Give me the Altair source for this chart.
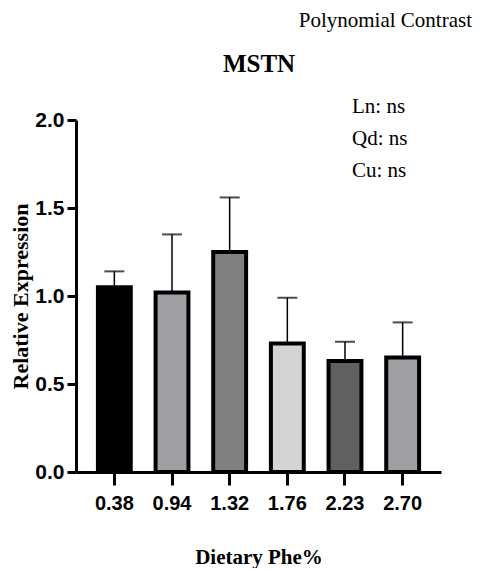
import altair as alt
import pandas as pd

# Data
doses = ["0.38", "0.94", "1.32", "1.76", "2.23", "2.70"]
means = [1.05, 1.02, 1.25, 0.73, 0.63, 0.65]
sems = [0.09, 0.33, 0.31, 0.26, 0.11, 0.20]
bar_colors = ["#000000", "#a0a0a4", "#808080", "#d4d4d4", "#606060", "#a0a0a4"]
contrast_lines = ["Ln: ns", "Qd: ns", "Cu: ns"]

df = pd.DataFrame({"dose": doses, "mean": means, "sem": sems})
df["upper"] = df["mean"] + df["sem"]

SANS = "Liberation Sans Narrow, Arial Narrow, Liberation Sans, sans-serif"
SERIF = "Liberation Serif, Times New Roman, serif"

x_enc = alt.X(
    "dose:N",
    sort=doses,
    scale=alt.Scale(paddingInner=0.43, paddingOuter=0.38),
    axis=alt.Axis(
        title="Dietary Phe%",
        labelAngle=0,
        labelFont=SANS,
        labelFontSize=20,
        labelFontWeight="bold",
        labelColor="black",
        labelPadding=8,
        tickSize=13,
        tickWidth=3,
        tickColor="black",
        domainWidth=3,
        domainColor="black",
        titleFont=SERIF,
        titleFontSize=21,
        titleFontWeight="bold",
        titleColor="black",
        titlePadding=33,
    ),
)

y_scale = alt.Scale(domain=[0, 2])
y_axis = alt.Axis(
    title="Relative Expression",
    values=[0, 0.5, 1.0, 1.5, 2.0],
    format=".1f",
    labelFont=SANS,
    labelFontSize=21,
    labelFontWeight="bold",
    labelColor="black",
    labelPadding=3,
    tickSize=9,
    tickWidth=3,
    tickColor="black",
    domainWidth=3,
    domainColor="black",
    grid=False,
    titleFont=SERIF,
    titleFontSize=22,
    titleFontWeight="bold",
    titleColor="black",
    titlePadding=2,
)

base = alt.Chart(df)

err_line = base.mark_rule(color="black", strokeWidth=1.5).encode(
    x=x_enc,
    y=alt.Y("mean:Q", scale=y_scale, axis=y_axis),
    y2="upper:Q",
)

err_cap = base.mark_tick(color="black", thickness=2, size=20).encode(
    x=alt.X("dose:N", sort=doses),
    y=alt.Y("upper:Q", scale=y_scale),
)

bars = base.mark_bar(stroke="black", strokeWidth=4).encode(
    x=alt.X("dose:N", sort=doses),
    y=alt.Y("mean:Q", scale=y_scale),
    color=alt.Color(
        "dose:N",
        sort=doses,
        scale=alt.Scale(domain=doses, range=bar_colors),
        legend=None,
    ),
)

anno_df = pd.DataFrame({"k": [0]})
contrast_text = alt.Chart(anno_df).mark_text(
    text=contrast_lines,
    align="left",
    baseline="alphabetic",
    font=SERIF,
    fontSize=21,
    lineHeight=32,
    color="black",
).encode(x=alt.value(276), y=alt.value(-7))

poly_text = alt.Chart(anno_df).mark_text(
    text="Polynomial Contrast",
    align="right",
    baseline="alphabetic",
    font=SERIF,
    fontSize=21,
    color="black",
).encode(x=alt.value(396), y=alt.value(-93))

title_text = alt.Chart(anno_df).mark_text(
    text="MSTN",
    align="center",
    baseline="alphabetic",
    font=SERIF,
    fontSize=25,
    fontWeight="bold",
    color="black",
).encode(x=alt.value(183), y=alt.value(-48))

chart = (
    alt.layer(err_line, err_cap, bars, contrast_text, poly_text, title_text)
    .properties(
        width=365,
        height=352,
        autosize=alt.AutoSizeParams(type="none"),
        padding={"left": 68, "top": 112, "right": 32, "bottom": 96},
    )
    .configure_view(stroke=None)
)

chart.save("out.html", embed_options={"renderer": "svg", "actions": False})
